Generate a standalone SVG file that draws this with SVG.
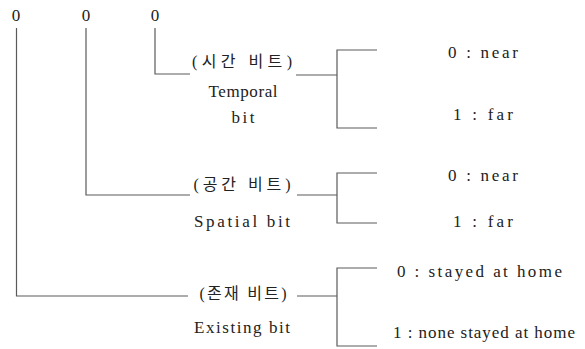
<svg xmlns="http://www.w3.org/2000/svg" width="585" height="349" viewBox="0 0 585 349">
  <style>
    .ln { fill: none; stroke: #5a5a5a; stroke-width: 1.2; }
    .t { font-family: "Liberation Serif", "Noto Sans CJK KR", serif; font-size: 17px; fill: #222; }
    .k { font-family: "Liberation Serif", "Noto Sans CJK KR", serif; font-size: 16px; fill: #222; }
    .m { text-anchor: middle; }
  </style>
  <rect width="585" height="349" fill="#fff"/>

  <!-- the three bit digits -->
  <g id="digits">
    <text class="t m" x="16" y="21">0</text>
    <text class="t m" x="86" y="21">0</text>
    <text class="t m" x="155" y="21">0</text>
  </g>

  <!-- connectors: digit drops and the value brackets -->
  <g id="connectors">
    <polyline class="ln" points="155,28 155,74 190,74"/>
    <polyline class="ln" points="86,28 86,195 190,195"/>
    <polyline class="ln" points="16.5,28 16.5,296 188,296"/>
    <!-- temporal bracket -->
    <line class="ln" x1="296" y1="75" x2="337" y2="75"/>
    <polyline class="ln" points="377,50 337,50 337,128 377,128"/>
    <!-- spatial bracket -->
    <line class="ln" x1="297" y1="195" x2="337" y2="195"/>
    <polyline class="ln" points="377,173 337,173 337,223 377,223"/>
    <!-- existing bracket -->
    <line class="ln" x1="297" y1="296" x2="337" y2="296"/>
    <polyline class="ln" points="377,268 337,268 337,346 377,346"/>
  </g>

  <g id="temporal-bit">
    <text class="k m" x="242" y="67" textLength="100" lengthAdjust="spacing">(시간 비트)</text>
    <text class="t m" x="243" y="97" textLength="69" lengthAdjust="spacing">Temporal</text>
    <text class="t m" x="243" y="123" textLength="23" lengthAdjust="spacing">bit</text>
  </g>
  <g id="temporal-values">
    <text class="t" x="448" y="58" textLength="70" lengthAdjust="spacing">0 : near</text>
    <text class="t" x="453" y="120" textLength="60" lengthAdjust="spacing">1 : far</text>
  </g>

  <g id="spatial-bit">
    <text class="k m" x="242" y="190" textLength="97" lengthAdjust="spacing">(공간 비트)</text>
    <text class="t m" x="242" y="227" textLength="96" lengthAdjust="spacing">Spatial bit</text>
  </g>
  <g id="spatial-values">
    <text class="t" x="448" y="181" textLength="70" lengthAdjust="spacing">0 : near</text>
    <text class="t" x="453" y="227" textLength="60" lengthAdjust="spacing">1 : far</text>
  </g>

  <g id="existing-bit">
    <text class="k m" x="243" y="299" textLength="87" lengthAdjust="spacing">(존재 비트)</text>
    <text class="t m" x="242" y="333" textLength="96" lengthAdjust="spacing">Existing bit</text>
  </g>
  <g id="existing-values">
    <text class="t" x="397" y="277" textLength="165" lengthAdjust="spacing">0 : stayed at home</text>
    <text class="t" x="393" y="338" textLength="182" lengthAdjust="spacing">1 : none stayed at home</text>
  </g>
</svg>
